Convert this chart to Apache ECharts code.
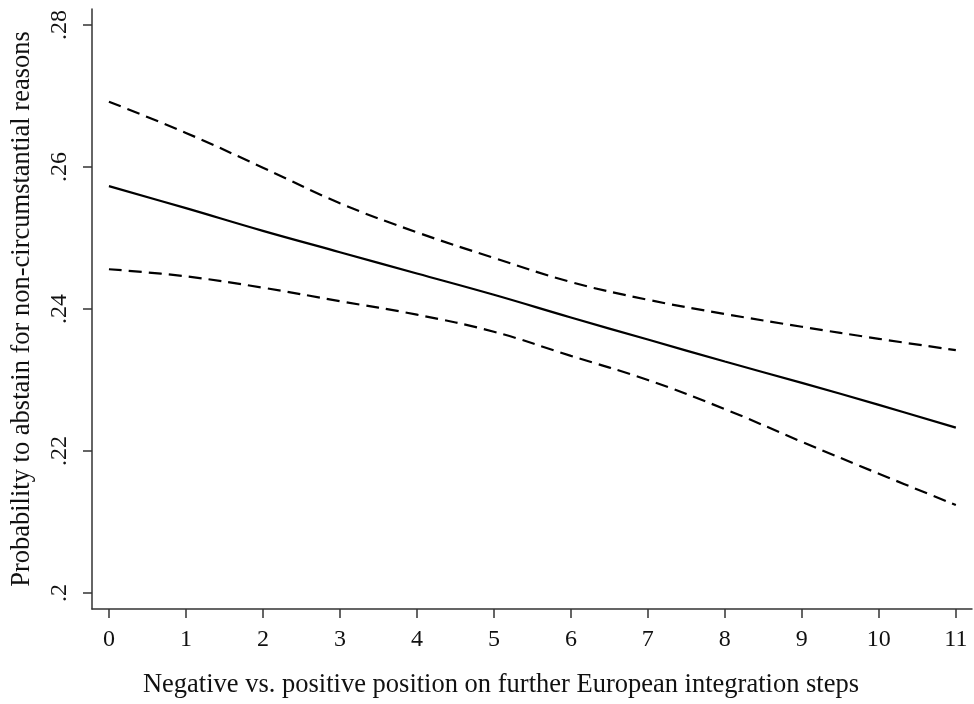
<!DOCTYPE html>
<html>
<head>
<meta charset="utf-8">
<script src="https://cdn.jsdelivr.net/npm/echarts@6/dist/echarts.min.js"></script>
<style>html,body{margin:0;padding:0;background:#fff;}#c{width:974px;height:704px;}</style>
</head>
<body>
<div id="c"></div>
<script>
const xValues = [0,1,2,3,4,5,6,7,8,9,10,11];
const upperCI = [0.2692,0.2648,0.2599,0.2549,0.2508,0.2472,0.2438,0.2413,0.2393,0.2375,0.2358,0.2342];
const predicted = [0.2573,0.2542,0.2510,0.2480,0.2450,0.2420,0.2388,0.2357,0.2326,0.2296,0.2265,0.2233];
const lowerCI = [0.2456,0.2446,0.2430,0.2411,0.2392,0.2368,0.2334,0.2300,0.2259,0.2213,0.2168,0.2124];
const xTicks = [0,1,2,3,4,5,6,7,8,9,10,11];
const yTicks = [0.2,0.22,0.24,0.26,0.28];
const yTickLabels = ['.2','.22','.24','.26','.28'];
const xTitle = 'Negative vs. positive position on further European integration steps';
const yTitle = 'Probability to abstain for non-circumstantial reasons';

const font = 'Liberation Serif';
const axisColor = '#333';
function pairs(ys){ return xValues.map((x,i)=>[x, ys[i]]); }

const chart = echarts.init(document.getElementById('c'));
chart.setOption({
  animation: false,
  backgroundColor: '#fff',
  grid: {left: 92, right: 2, top: 9, bottom: 95, containLabel: false},
  xAxis: {
    type: 'value', min: -0.22, max: 11.21,
    name: xTitle, nameLocation: 'middle', nameGap: 63,
    nameTextStyle: {fontFamily: font, fontSize: 26.5, color: '#111', padding: [0, 62, 0, 0]},
    axisLine: {show: true, onZero: false, lineStyle: {color: axisColor, width: 1.5}},
    axisTick: {show: true, length: 9, customValues: xTicks, lineStyle: {color: axisColor, width: 1.5}},
    axisLabel: {customValues: xTicks, margin: 19, fontFamily: font, fontSize: 24, color: '#111'},
    splitLine: {show: false}
  },
  yAxis: {
    type: 'value', min: 0.19775, max: 0.28225,
    name: yTitle, nameLocation: 'middle', nameGap: 56, nameRotate: 90,
    nameTextStyle: {fontFamily: font, fontSize: 26.5, color: '#111'},
    axisLine: {show: true, onZero: false, lineStyle: {color: axisColor, width: 1.5}},
    axisTick: {show: true, length: 9, customValues: yTicks, lineStyle: {color: axisColor, width: 1.5}},
    axisLabel: {customValues: yTicks, rotate: 90, margin: 20, fontFamily: font, fontSize: 24, color: '#111',
      formatter: v => { const i = yTicks.findIndex(t => Math.abs(t - v) < 1e-9); return i >= 0 ? yTickLabels[i] : ''; }},
    splitLine: {show: false}
  },
  series: [
    {type: 'line', data: pairs(upperCI), symbol: 'none', smooth: 0.4, lineStyle: {color: '#000', width: 2.2, type: [13, 7]}},
    {type: 'line', data: pairs(predicted), symbol: 'none', smooth: 0.4, lineStyle: {color: '#000', width: 2.2}},
    {type: 'line', data: pairs(lowerCI), symbol: 'none', smooth: 0.4, lineStyle: {color: '#000', width: 2.2, type: [13, 7]}}
  ]
});
</script>
</body>
</html>
